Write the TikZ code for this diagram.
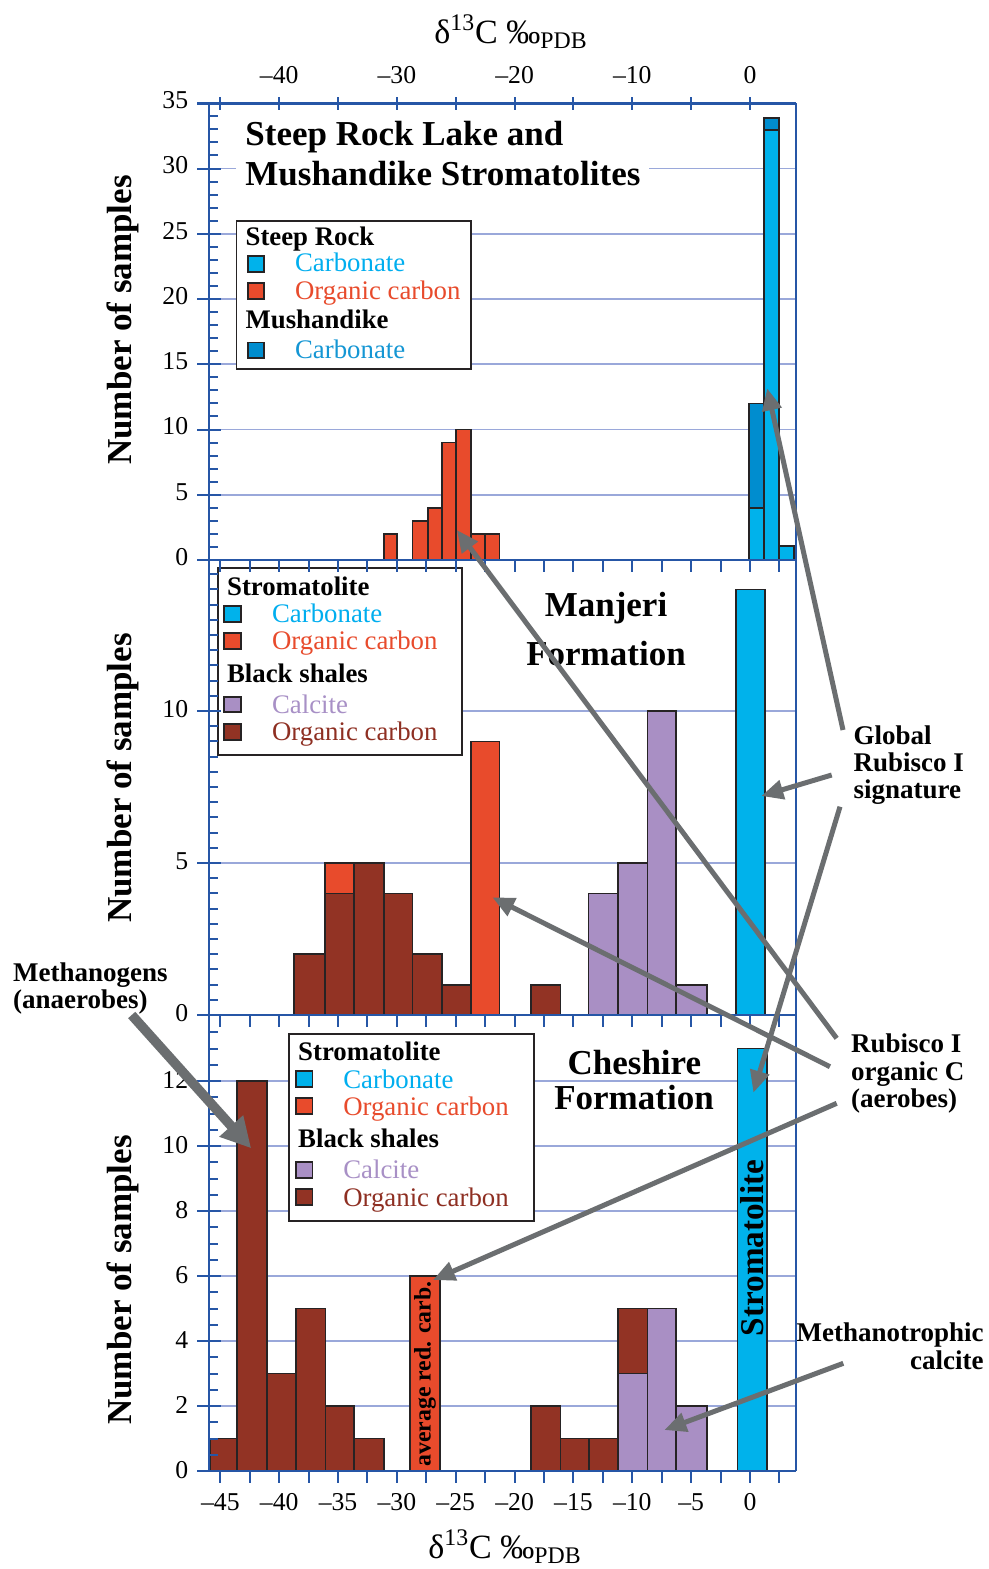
\documentclass[tikz,border=0pt]{standalone}
\usepackage{fontspec}
\setmainfont{Liberation Serif}
\usetikzlibrary{arrows.meta}
\definecolor{axc}{HTML}{2656A6}
\definecolor{grc}{HTML}{9AA8DA}
\definecolor{cyc}{HTML}{00B2EB}
\definecolor{dbc}{HTML}{008DCF}
\definecolor{rdc}{HTML}{E84B2C}
\definecolor{brc}{HTML}{923324}
\definecolor{puc}{HTML}{A98FC4}
\definecolor{olc}{HTML}{262324}
\definecolor{agc}{HTML}{6B6E70}
\definecolor{cytx}{HTML}{00AEEF}
\definecolor{dbtx}{HTML}{1496D4}
\definecolor{brtx}{HTML}{8E2F22}
\definecolor{putx}{HTML}{A890C6}
\tikzset{
  axln/.style={draw=axc,line width=1.35pt},
  tk/.style={draw=axc,line width=1pt},
  gridln/.style={draw=grc,line width=0.9pt},
  barst/.style={draw=olc,line width=0.9pt},
  legbox/.style={draw=olc,line width=0.9pt,fill=white},
  sw/.style={draw=olc,line width=0.9pt},
  arr/.style={draw=agc,line width=2.5pt,-{Triangle[length=11pt,width=9.5pt]}},
  bigarr/.style={draw=agc,line width=4.8pt,-{Triangle[length=15pt,width=15pt]}},
  ttl/.style={font=\fontsize{17.5}{20}\selectfont\bfseries, inner sep=0pt},
  legh/.style={font=\fontsize{13.4}{16}\selectfont\bfseries, anchor=base west, inner sep=0pt},
  lege/.style={font=\fontsize{13.4}{16}\selectfont, anchor=base west, inner sep=0pt},
  ann/.style={font=\fontsize{13.5}{16}\selectfont\bfseries, inner sep=0pt},
  ylab/.style={font=\fontsize{12.85}{15}\selectfont, anchor=east, inner sep=0pt},
  xlab/.style={font=\fontsize{12.85}{15}\selectfont, anchor=base, inner sep=0pt},
  axt/.style={font=\fontsize{17}{20}\selectfont, anchor=base, inner sep=0pt},
}
\begin{document}
\begin{tikzpicture}[x=0.5pt,y=-0.5pt]
\useasboundingbox (0,0) rectangle (989,1569);
\fill[white] (0,0) rectangle (989,1569);

% grid lines
\foreach \v in {5,10,...,30} \draw[gridln] (209,{560-13.05*\v}) -- (796,{560-13.05*\v});
\foreach \v in {5,10} \draw[gridln] (209,{1015-30.4*\v}) -- (796,{1015-30.4*\v});
\foreach \v in {2,4,...,12} \draw[gridln] (209,{1471-32.5*\v}) -- (796,{1471-32.5*\v});

% ---------- top panel bars
\foreach \a/\b/\v in {383.6/396.7/2, 412.5/427.9/3, 427.9/441.8/4, 441.8/456.0/9, 456.0/470.6/10, 470.6/485.3/2, 485.3/499.5/2}
  \draw[barst,fill=rdc] (\a,560) rectangle (\b,{560-13.05*\v});
\draw[barst,fill=cyc] (749.3,560) rectangle (764.3,{560-13.05*4});
\draw[barst,fill=dbc] (749.3,{560-13.05*4}) rectangle (764.3,{560-13.05*12});
\draw[barst,fill=cyc] (764.3,560) rectangle (779.3,130);
\draw[barst,fill=dbc] (764.3,130) rectangle (779.3,118.3);
\draw[barst,fill=cyc] (779.3,560) rectangle (794.3,546);

% ---------- middle panel bars
\foreach \a/\b/\v in {293.9/325.1/2, 354.0/383.6/5, 383.6/412.5/4, 412.5/441.8/2, 441.8/470.6/1, 531.1/560.4/1}
  \draw[barst,fill=brc] (\a,1015) rectangle (\b,{1015-30.4*\v});
\draw[barst,fill=brc] (325.1,1015) rectangle (354.0,{1015-30.4*4});
\draw[barst,fill=rdc] (325.1,{1015-30.4*4}) rectangle (354.0,{1015-30.4*5});
\draw[barst,fill=rdc] (470.6,1015) rectangle (499.5,{1015-30.4*9});
\foreach \a/\b/\v in {588.5/617.7/4, 617.7/647.4/5, 647.4/676.2/10, 676.2/707.1/1}
  \draw[barst,fill=puc] (\a,1015) rectangle (\b,{1015-30.4*\v});
\draw[barst,fill=cyc] (736.3,1015) rectangle (765.2,{1015-30.4*14});

% ---------- bottom panel bars
\foreach \a/\b/\v in {209.7/237.3/1, 237.3/267.0/12, 267.0/295.9/3, 295.9/325.5/5, 325.5/354.0/2, 354.0/383.6/1, 531.1/560.4/2, 560.4/589.3/1, 589.3/617.7/1}
  \draw[barst,fill=brc] (\a,1471) rectangle (\b,{1471-32.5*\v});
\draw[barst,fill=rdc] (410.1,1471) rectangle (439.8,{1471-32.5*6});
\draw[barst,fill=puc] (617.7,1471) rectangle (647.4,{1471-32.5*3});
\draw[barst,fill=brc] (617.7,{1471-32.5*3}) rectangle (647.4,{1471-32.5*5});
\foreach \a/\b/\v in {647.4/676.2/5, 676.2/707.1/2}
  \draw[barst,fill=puc] (\a,1471) rectangle (\b,{1471-32.5*\v});
\draw[barst,fill=cyc] (737.5,1471) rectangle (767.2,{1471-32.5*13});

\node[font=\fontsize{16.6}{18}\selectfont\bfseries, rotate=90, inner sep=0pt] (strlab) at (752.3,1248) {Stromatolite};
\node[font=\fontsize{11.9}{14}\selectfont\bfseries, rotate=90, inner sep=0pt] (avglab) at (425,1374) {average red. carb.};

% ---------- legends
\draw[legbox] (236.5,221) rectangle (470.6,369.3);
\node[legh] (la1) at (245.2,245) {Steep Rock};
\draw[sw,fill=cyc] (248,256) rectangle (263.8,271.7);
\node[lege,text=cytx] (la2) at (294.7,271.7) {Carbonate};
\draw[sw,fill=rdc] (248,283.3) rectangle (263.8,299.3);
\node[lege,text=rdc] (la3) at (294.7,299.3) {Organic carbon};
\node[legh] (la4) at (245.2,328.3) {Mushandike};
\draw[sw,fill=dbc] (248,342.5) rectangle (263.8,358);
\node[lege,text=dbtx] (la5) at (294.7,358.3) {Carbonate};

\draw[legbox] (217.6,568.3) rectangle (461.9,755);
\node[legh] (lb1) at (226.7,595) {Stromatolite};
\draw[sw,fill=cyc] (224.3,606) rectangle (241.3,621.7);
\node[lege,text=cytx] (lb2) at (271.7,622.3) {Carbonate};
\draw[sw,fill=rdc] (224.3,633.3) rectangle (241.3,649);
\node[lege,text=rdc] (lb3) at (271.7,649.3) {Organic carbon};
\node[legh] (lb4) at (226.7,682.7) {Black shales};
\draw[sw,fill=puc] (224.3,696.7) rectangle (241.3,712.3);
\node[lege,text=putx] (lb5) at (271.7,713.3) {Calcite};
\draw[sw,fill=brc] (224.3,724) rectangle (241.3,740);
\node[lege,text=brtx] (lb6) at (271.7,740) {Organic carbon};

\draw[legbox] (288.7,1034.3) rectangle (533.9,1220.7);
\node[legh] (lc1) at (297.8,1060.7) {Stromatolite};
\draw[sw,fill=cyc] (295.9,1071) rectangle (312.5,1087.3);
\node[lege,text=cytx] (lc2) at (342.9,1088.3) {Carbonate};
\draw[sw,fill=rdc] (295.9,1098.3) rectangle (312.5,1114.3);
\node[lege,text=rdc] (lc3) at (342.9,1115.7) {Organic carbon};
\node[legh] (lc4) at (297.8,1147.7) {Black shales};
\draw[sw,fill=puc] (295.9,1161.7) rectangle (312.5,1178.3);
\node[lege,text=putx] (lc5) at (342.9,1178.3) {Calcite};
\draw[sw,fill=brc] (295.9,1189) rectangle (312.5,1205);
\node[lege,text=brtx] (lc6) at (342.9,1206) {Organic carbon};

% ---------- titles
\node[ttl,anchor=base west] (t1a) at (245,145) {Steep Rock Lake and};
\node[ttl,anchor=base west,fill=white,inner xsep=4.5pt,inner ysep=2pt] (t1b) at (236,185) {Mushandike Stromatolites};
\node[ttl,anchor=base] (t2a) at (606,616) {Manjeri};
\node[ttl,anchor=base] (t2b) at (606,665) {Formation};
\node[ttl,anchor=base] (t3a) at (634.4,1074.3) {Cheshire};
\node[ttl,anchor=base] (t3b) at (634,1109.3) {Formation};

% ---------- axes
\draw[axln] (209,103.3) -- (209,1471);
\draw[axln] (796,103.3) -- (796,1471);
\foreach \y in {103.3,560,1015,1471} \draw[axln] (197,\y) -- (796,\y);

% minor y ticks
\foreach \i in {1,...,34} \draw[tk] (209,{560-13.05*\i}) -- (217.5,{560-13.05*\i});
\foreach \i in {1,...,29} \draw[tk] (209,{1015-15.2*\i}) -- (217.5,{1015-15.2*\i});
\foreach \i in {1,...,27} \draw[tk] (209,{1471-16.25*\i}) -- (217.5,{1471-16.25*\i});
% major y ticks
\foreach \v in {0,5,...,35} \draw[tk] (197,{560-13.05*\v}) -- (221,{560-13.05*\v});
\foreach \v in {5,10} \draw[tk] (197,{1015-30.4*\v}) -- (221,{1015-30.4*\v});
\foreach \v in {0,2,...,12} \draw[tk] (197,{1471-32.5*\v}) -- (221,{1471-32.5*\v});

% x ticks
\foreach \i in {0,...,9} \draw[tk] ({220.35+58.85*\i},97) -- ({220.35+58.85*\i},109.5);
\foreach \y in {560,1015,1471}
  \foreach \i in {0,...,19} \draw[tk] ({220.35+29.425*\i},\y) -- ({220.35+29.425*\i},\y+11.5);

% tick labels
\foreach \d/\t [count=\k] in {-40/–40,-30/–30,-20/–20,-10/–10,0/0}
  \node[xlab] (tx\k) at ({750+11.77*\d},83.3) {\t};
\foreach \d/\t [count=\k] in {-45/–45,-40/–40,-35/–35,-30/–30,-25/–25,-20/–20,-15/–15,-10/–10,-5/–5,0/0}
  \node[xlab] (bx\k) at ({750+11.77*\d},1510) {\t};
\foreach \v [count=\k] in {0,5,...,35} \node[ylab] (ya\k) at (188.5,{560-13.05*\v-3}) {\v};
\foreach \v [count=\k] in {0,5,10} \node[ylab] (yb\k) at (188.5,{1015-30.4*\v-2}) {\v};
\foreach \v [count=\k] in {0,2,...,12} \node[ylab] (yc\k) at (188.5,{1471-32.5*\v-1}) {\v};

% axis titles
\node[axt] (xtop) at (511,43.3) {δ\textsuperscript{13}C ‰\textsubscript{PDB}};
\node[axt] (xbot) at (505,1558) {δ\textsuperscript{13}C ‰\textsubscript{PDB}};
\node[ttl,rotate=90] (yt1) at (122.5,320) {Number of samples};
\node[ttl,rotate=90] (yt2) at (122.5,778) {Number of samples};
\node[ttl,rotate=90] (yt3) at (122.5,1280) {Number of samples};

% annotations
\node[ann,anchor=base west] (g1) at (853.3,744) {Global};
\node[ann,anchor=base west] (g2) at (853.3,771.7) {Rubisco I};
\node[ann,anchor=base west] (g3) at (853.3,798.5) {signature};
\node[ann,anchor=base west] (r1) at (850.7,1052.7) {Rubisco I};
\node[ann,anchor=base west] (r2) at (850.7,1080) {organic C};
\node[ann,anchor=base west] (r3) at (850.7,1107.3) {(aerobes)};
\node[ann,anchor=base east] (m1) at (984,1341.7) {Methanotrophic};
\node[ann,anchor=base east] (m2) at (984,1369) {calcite};
\node[ann,anchor=base west] (n1) at (12.7,981.7) {Methanogens};
\node[ann,anchor=base west] (n2) at (12.7,1008.3) {(anaerobes)};

% arrows
\coordinate (a1s) at (843,730);     \coordinate (a1e) at (767.2,388.3);
\coordinate (a2s) at (831.7,775);   \coordinate (a2e) at (761.3,796);
\coordinate (a3s) at (840,806.7);   \coordinate (a3e) at (753.4,1092.7);
\coordinate (a4s) at (836.7,1038.3);\coordinate (a4e) at (456.8,530);
\coordinate (a5s) at (830,1066.7);  \coordinate (a5e) at (492.4,897.3);
\coordinate (a6s) at (836.7,1103.3);\coordinate (a6e) at (433,1280);
\coordinate (a7s) at (843.3,1363.3);\coordinate (a7e) at (664.4,1430);
\coordinate (a8s) at (131.7,1015);  \coordinate (a8e) at (251.2,1148.3);
\draw[arr] (a1s) -- (a1e);
\draw[arr] (a2s) -- (a2e);
\draw[arr] (a3s) -- (a3e);
\draw[arr] (a4s) -- (a4e);
\draw[arr] (a5s) -- (a5e);
\draw[arr] (a6s) -- (a6e);
\draw[arr] (a7s) -- (a7e);
\draw[bigarr] (a8s) -- (a8e);
\end{tikzpicture}
\end{document}
